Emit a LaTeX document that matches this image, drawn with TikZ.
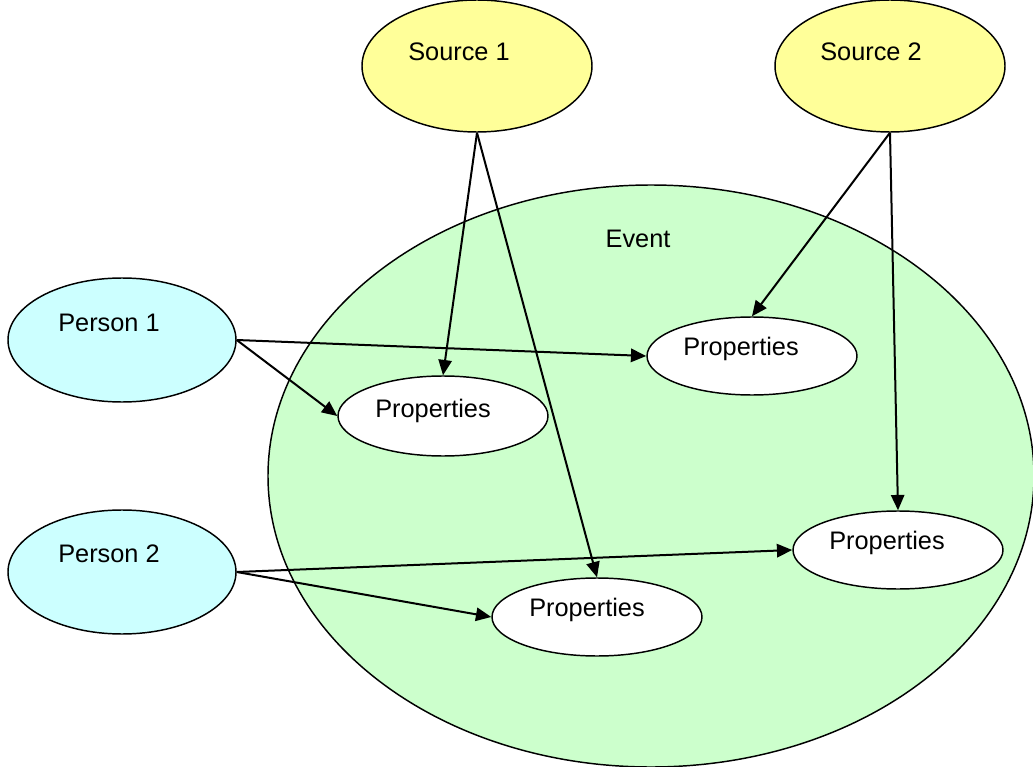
\documentclass[tikz,border=0pt]{standalone}
\usepackage{fontspec}
\setmainfont{Liberation Sans}
\usetikzlibrary{shapes.geometric,arrows.meta}
\definecolor{evgreen}{HTML}{CCFFCC}
\definecolor{srcyellow}{HTML}{FFFF99}
\definecolor{percyan}{HTML}{CCFFFF}
\tikzset{
  blob/.style={ellipse, draw=black, line width=1.1pt, inner sep=0pt},
  txt/.style={font=\fontsize{19}{23}\selectfont, inner sep=0pt},
  conn/.style={line width=1.5pt, -{Triangle[length=11.5pt,width=10pt]}},
}
\begin{document}
\begin{tikzpicture}[x=0.75pt,y=-0.75pt]
\useasboundingbox (0,0) rectangle (1033,767);
\node[blob, fill=evgreen, minimum width=574.5pt, minimum height=436.5pt] (ev) at (651,476) {};
\node[txt] (evt) at (638,239) {Event};
\node[blob, fill=srcyellow, minimum width=172.5pt, minimum height=99pt] (s1) at (477,66) {};
\node[txt] (s1t) at (459,52) {Source 1};
\node[blob, fill=srcyellow, minimum width=172.5pt, minimum height=99pt] (s2) at (890,66) {};
\node[txt] (s2t) at (871,52) {Source 2};
\node[blob, fill=percyan, minimum width=171pt, minimum height=93pt] (p1) at (122,340) {};
\node[txt] (p1t) at (109,323) {Person 1};
\node[blob, fill=percyan, minimum width=171pt, minimum height=93pt] (p2) at (122,572) {};
\node[txt] (p2t) at (109,554) {Person 2};
\node[blob, fill=white, minimum width=157.5pt, minimum height=60pt] (pa) at (443,416) {};
\node[txt] (pat) at (433,411) {Properties};
\node[blob, fill=white, minimum width=157.5pt, minimum height=58.5pt] (pb) at (752,356) {};
\node[txt] (pbt) at (741,349) {Properties};
\node[blob, fill=white, minimum width=157.5pt, minimum height=58.5pt] (pc) at (898,550) {};
\node[txt] (pct) at (887,543) {Properties};
\node[blob, fill=white, minimum width=157.5pt, minimum height=58.5pt] (pd) at (597,617) {};
\node[txt] (pdt) at (587,610) {Properties};
\draw[conn] (s1.south) -- (pa.north);
\draw[conn] (s1.south) -- (pd.north);
\draw[conn] (s2.south) -- (pb.north);
\draw[conn] (s2.south) -- (pc.north);
\draw[conn] (p1.east) -- (pb.west);
\draw[conn] (p1.east) -- (pa.west);
\draw[conn] (p2.east) -- (pc.west);
\draw[conn] (p2.east) -- (pd.west);
\end{tikzpicture}
\end{document}
